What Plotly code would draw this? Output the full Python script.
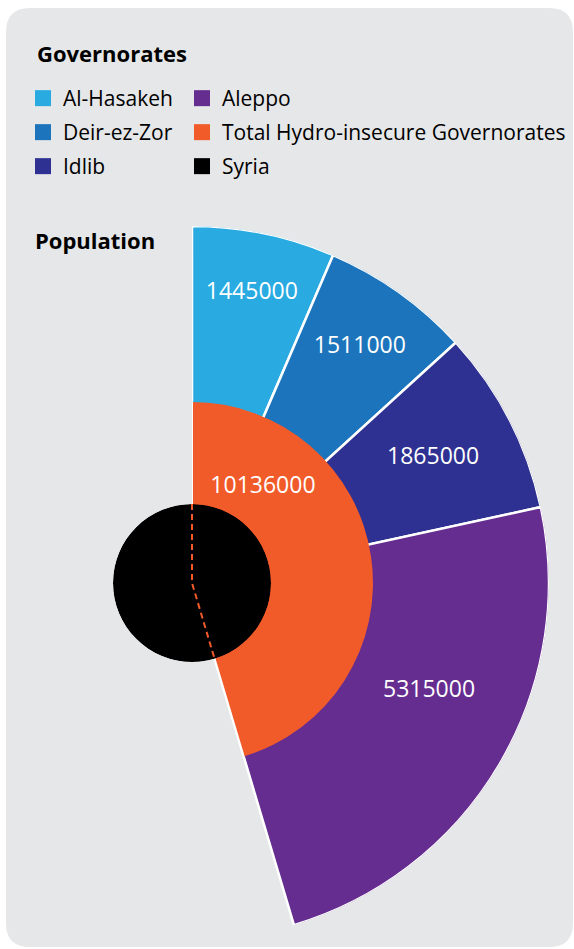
import numpy as np
import plotly.graph_objects as go

# ---- data -------------------------------------------------------------
governorates = ["Al-Hasakeh", "Deir-ez-Zor", "Idlib", "Aleppo"]
population = [1445000, 1511000, 1865000, 5315000]
total_name = "Total Hydro-insecure Governorates"
total_population = 10136000
country_name = "Syria"
country_population = 22331000

# ---- style ------------------------------------------------------------
gov_colors = ["#29abe2", "#1c75bc", "#2e3192", "#662d91"]
total_color = "#f15a29"
country_color = "#000000"
card_color = "#e6e7e8"
FONT = "Open Sans"

W, H = 574, 949
CX, CY = 192, 583          # pixel centre of the rings
R_OUT, R_TOTAL, R_COUNTRY = 357, 181, 79

# label placement: fraction of the wedge's sweep, and radius (fraction of ring)
gov_label_frac = [0.5, 0.5, 0.5, 0.43]
gov_label_r = [0.83, 0.81, 0.76, 0.73]
total_label_frac, total_label_r = 0.223, 0.66
country_label_theta, country_label_r = 197.7, 1.33

# ---- angles derived from the populations ------------------------------
deg_per_person = 360.0 / country_population
gov_width = np.array(population) * deg_per_person
gov_start = np.concatenate([[0.0], np.cumsum(gov_width)[:-1]])
gov_mid = gov_start + gov_width / 2
total_width = total_population * deg_per_person
r_total = R_TOTAL / R_OUT

fig = go.Figure()

# governorate wedges
fig.add_trace(go.Barpolar(
    r=[1.0] * len(population), theta=gov_mid, width=gov_width,
    marker=dict(color=gov_colors, line=dict(color="white", width=2.5)),
    showlegend=False, hoverinfo="skip", subplot="polar"))

# total of the hydro-insecure governorates
fig.add_trace(go.Barpolar(
    r=[r_total], theta=[total_width / 2], width=[total_width],
    marker=dict(color=total_color, line=dict(width=0)),
    showlegend=False, hoverinfo="skip", subplot="polar"))
# white straight edges of the total wedge
fig.add_trace(go.Scatterpolar(
    r=[r_total, 0.0, r_total], theta=[0.0, 0.0, total_width], mode="lines",
    line=dict(color="white", width=2),
    showlegend=False, hoverinfo="skip", subplot="polar"))

# value labels on the wedges
fig.add_trace(go.Scatterpolar(
    r=gov_label_r,
    theta=gov_start + gov_width * np.array(gov_label_frac),
    mode="text", text=[str(v) for v in population],
    textfont=dict(family=FONT, size=23, color="white"),
    cliponaxis=False, showlegend=False, hoverinfo="skip", subplot="polar"))
fig.add_trace(go.Scatterpolar(
    r=[total_label_r * r_total], theta=[total_width * total_label_frac],
    mode="text", text=[str(total_population)],
    textfont=dict(family=FONT, size=23, color="white"),
    cliponaxis=False, showlegend=False, hoverinfo="skip", subplot="polar"))

# Syria disc
fig.add_trace(go.Barpolar(
    r=[1.0], theta=[180], width=[360],
    marker=dict(color=country_color, line=dict(width=0)),
    showlegend=False, hoverinfo="skip", subplot="polar2"))
# outline of the total wedge continued over the disc
fig.add_trace(go.Scatterpolar(
    r=[1.0, 0.0, 1.0], theta=[0.0, 0.0, total_width], mode="lines",
    line=dict(color=total_color, width=2, dash="6px,4px"),
    showlegend=False, hoverinfo="skip", subplot="polar2"))
fig.add_trace(go.Scatterpolar(
    r=[country_label_r], theta=[country_label_theta], mode="text",
    text=[str(country_population)],
    textfont=dict(family=FONT, size=23, color="black"),
    cliponaxis=False, showlegend=False, hoverinfo="skip", subplot="polar2"))

# legend entries
legend_items = (
    [(n, c, "legend") for n, c in zip(governorates[:3], gov_colors[:3])]
    + [(governorates[3], gov_colors[3], "legend2"),
       (total_name, total_color, "legend2"),
       (country_name, country_color, "legend2")]
)
for name, color, leg in legend_items:
    fig.add_trace(go.Scatterpolar(
        r=[None], theta=[None], mode="markers", name=name,
        marker=dict(symbol="square", size=16, color=color, line=dict(width=0)),
        legend=leg, legendgroup=name, subplot="polar"))

polar_common = dict(
    bgcolor="rgba(0,0,0,0)",
    angularaxis=dict(visible=False, rotation=90, direction="clockwise"),
    radialaxis=dict(visible=False, range=[0, 1]),
)
legend_common = dict(
    xanchor="left", yanchor="top", bgcolor="rgba(0,0,0,0)",
    font=dict(size=21), tracegroupgap=3.7,
    itemclick=False, itemdoubleclick=False)

fig.update_layout(
    width=W, height=H,
    margin=dict(l=0, r=0, t=0, b=0, autoexpand=False),
    paper_bgcolor="white",
    font=dict(family=FONT, color="black"),
    polar=dict(
        **polar_common, sector=[-90, 90],
        domain=dict(x=[CX / W, (CX + R_OUT) / W],
                    y=[1 - (CY + R_OUT) / H, 1 - (CY - R_OUT) / H])),
    polar2=dict(
        **polar_common,
        domain=dict(x=[(CX - R_COUNTRY) / W, (CX + R_COUNTRY) / W],
                    y=[1 - (CY + R_COUNTRY) / H, 1 - (CY - R_COUNTRY) / H])),
    legend=dict(x=23 / W, y=1 - 78 / H, **legend_common),
    legend2=dict(x=182 / W, y=1 - 78 / H, **legend_common),
    annotations=[
        dict(text="<b>Governorates</b>", x=35 / W, y=1 - 53 / H,
             xref="paper", yref="paper", xanchor="left", yanchor="middle",
             showarrow=False, font=dict(size=22)),
        dict(text="<b>Population</b>", x=33 / W, y=1 - 240 / H,
             xref="paper", yref="paper", xanchor="left", yanchor="middle",
             showarrow=False, font=dict(size=22)),
    ],
)

# rounded card behind everything
x0, x1 = 6 / W, 573 / W
y0, y1 = 1 - 947 / H, 1 - 8 / H
rx, ry = 24 / W, 24 / H
card = (f"M{x0 + rx},{y1} L{x1 - rx},{y1} Q{x1},{y1} {x1},{y1 - ry} "
        f"L{x1},{y0 + ry} Q{x1},{y0} {x1 - rx},{y0} L{x0 + rx},{y0} "
        f"Q{x0},{y0} {x0},{y0 + ry} L{x0},{y1 - ry} Q{x0},{y1} {x0 + rx},{y1} Z")
fig.add_shape(type="path", path=card, xref="paper", yref="paper",
              fillcolor=card_color, line=dict(width=0), layer="below")

fig.write_html("out.html")
